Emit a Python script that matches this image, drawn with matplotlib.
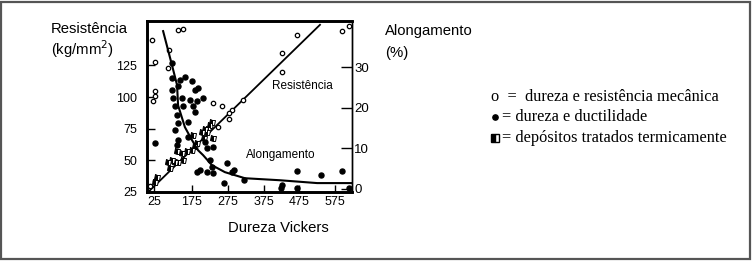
import numpy as np
import matplotlib
matplotlib.use("Agg")
import matplotlib.pyplot as plt
from matplotlib.patches import Rectangle
from matplotlib.lines import Line2D

plt.rcParams["font.family"] = ["Liberation Sans", "DejaVu Sans"]

# ---------------------------------------------------------------------------
# Data (Vickers hardness, kg/mm2, %)
# ---------------------------------------------------------------------------
# o = dureza e resistencia mecanica (left axis)
res_v = [17, 29, 29, 29, 21, 120, 140, 84, 80, 234, 259, 287, 318, 279, 279,
         248, 469, 427, 427, 595, 615, 9, 29]
res_r = [145, 128, 105, 101, 97, 153, 154, 137, 123, 95, 93, 90, 98, 87, 83,
         76, 149, 135, 120, 152, 156, 30, 34]

# depositos tratados termicamente (left axis)
dep_v = [37, 29, 80, 88, 96, 108, 120, 140, 116, 136, 155, 175, 183, 189, 178,
         203, 211, 220, 225, 217, 234, 209, 231]
dep_r = [37, 33, 49, 44, 50, 49, 49, 50, 57, 56, 57, 58, 61, 64, 70,
         72, 75, 75, 78, 72, 68, 68, 80]

# * = dureza e ductilidade (right axis, %)
duc_v = [96, 96, 128, 147, 175, 120, 183, 192, 96, 100, 136, 167, 189, 206,
         178, 108, 140, 116, 183, 159, 120, 108, 29, 120, 116, 159, 211, 217,
         234, 225, 231, 273, 189, 197, 217, 234, 293, 287, 265, 321, 427, 424,
         469, 469, 536, 595, 615]
duc_a = [31.0, 27.3, 26.8, 27.5, 26.5, 25.3, 24.3, 24.8, 24.3, 22.3, 22.3,
         21.9, 21.6, 22.3, 20.4, 20.4, 20.4, 18.1, 18.9, 16.4, 16.2, 14.4, 11.2,
         12.0, 10.7, 12.7, 11.5, 10.0, 10.2, 7.0, 5.3, 6.3, 4.1, 4.6, 4.1, 3.8,
         4.6, 4.1, 1.4, 2.1, 0.9, 0.1, 4.3, 0.1, 3.3, 4.3, 0.1]

# trend lines
res_line_v = [2, 533]
res_line_r = [25, 157]
along_v = [61, 96, 116, 120, 147, 175, 192, 206, 231, 267, 323, 421, 525, 623]
along_a = [38.9, 30.5, 25.6, 20.6, 15.2, 12.0, 9.5, 8.3, 5.8, 4.1, 2.6, 2.1,
           1.4, 1.4]

x_ticks = [25, 175, 275, 375, 475, 575]
left_ticks = [25, 50, 75, 100, 125]
right_ticks = [0, 10, 20, 30]

# the printed x axis is not evenly spaced: 25 -> 175 is squeezed
scale_v = [-3, 25, 175, 575, 623]
scale_p = [0, 7, 45, 188, 205]


def fwd(v):
    return np.interp(v, scale_v, scale_p)


def inv(p):
    return np.interp(p, scale_p, scale_v)


W, H = 752, 262
fig = plt.figure(figsize=(W / 100, H / 100), dpi=100)
fig.patch.set_facecolor("white")
fig.patches.append(Rectangle((1 / W, 3 / H), 749 / W, 257 / H,
                             transform=fig.transFigure, fill=False,
                             edgecolor="#555555", linewidth=1.6))

ax = fig.add_axes([147 / W, (H - 192) / H, 205 / W, 171 / H])
ax.set_xscale("function", functions=(fwd, inv))
ax.set_xlim(-3, 623)
ax.set_ylim(25, 160)
ax2 = ax.twinx()
ax2.set_ylim(-0.8, 41.4)

# trend lines
ax.plot(res_line_v, res_line_r, color="black", lw=1.3, zorder=3)
ax2.plot(along_v, along_a, color="black", lw=1.5, zorder=3)

# points
ax.scatter(res_v, res_r, s=10, facecolors="white", edgecolors="black",
           linewidths=0.9, zorder=4)
ax.plot(dep_v, dep_r, ls="none", marker="s", ms=3.6, fillstyle="left",
        markerfacecolor="black", markerfacecoloralt="white",
        markeredgecolor="black", markeredgewidth=0.7, zorder=4)
ax2.scatter(duc_v, duc_a, s=13, color="black", zorder=4)

# ticks
ax.set_xticks(x_ticks)
ax.set_xticklabels([str(t) for t in x_ticks])
ax.set_yticks(left_ticks)
ax2.set_yticks(right_ticks)
ax.tick_params(axis="x", direction="in", length=5, width=1, pad=3,
               labelsize=9)
ax.tick_params(axis="y", direction="in", length=6, width=1, pad=7,
               labelsize=9)
ax2.tick_params(axis="y", direction="in", length=8, width=1, pad=1.5,
                labelsize=9.5)

for a in (ax, ax2):
    for side in ("left", "top", "bottom"):
        a.spines[side].set_linewidth(1.9)
    a.spines["right"].set_linewidth(1.0)

# inner labels
ax.text(0.61, 0.62, "Resistência", transform=ax.transAxes, fontsize=8.5,
        va="center", ha="left")
ax.text(0.483, 0.216, "Alongamento", transform=ax.transAxes, fontsize=8.5,
        va="center", ha="left")

# axis titles
fig.text(51 / W, 1 - 29 / H, "Resistência", fontsize=10.7, va="center",
         ha="left")
fig.text(51 / W, 1 - 49 / H, "(kg/mm$^2$)", fontsize=10.7, va="center",
         ha="left")
fig.text(385 / W, 1 - 31 / H, "Alongamento", fontsize=10.7, va="center",
         ha="left")
fig.text(385 / W, 1 - 53 / H, "(%)", fontsize=10.7, va="center", ha="left")
fig.text(278 / W, 1 - 228 / H, "Dureza Vickers", fontsize=10.7,
         va="center", ha="center")

# key
serif = ["Liberation Serif", "DejaVu Serif", "DejaVu Sans"]
fig.text(491 / W, 1 - 97 / H, "o  =  dureza e resistência mecânica",
         family=serif, fontsize=11.8, va="center", ha="left")
fig.add_artist(Line2D([495 / W], [1 - 117 / H], transform=fig.transFigure,
                      ls="none", marker="o", ms=3.8, color="black"))
fig.text(502 / W, 1 - 117 / H, "= dureza e ductilidade",
         family=serif, fontsize=11.8, va="center", ha="left")
fig.add_artist(Line2D([495 / W], [1 - 138 / H], transform=fig.transFigure,
                      ls="none", marker="s", ms=5.5, fillstyle="left",
                      markerfacecolor="black", markerfacecoloralt="white",
                      markeredgecolor="black", markeredgewidth=1.0))
fig.text(502 / W, 1 - 138 / H, "= depósitos tratados termicamente",
         family=serif, fontsize=11.8, va="center", ha="left")

fig.savefig("out.png", dpi=100, facecolor="white")
